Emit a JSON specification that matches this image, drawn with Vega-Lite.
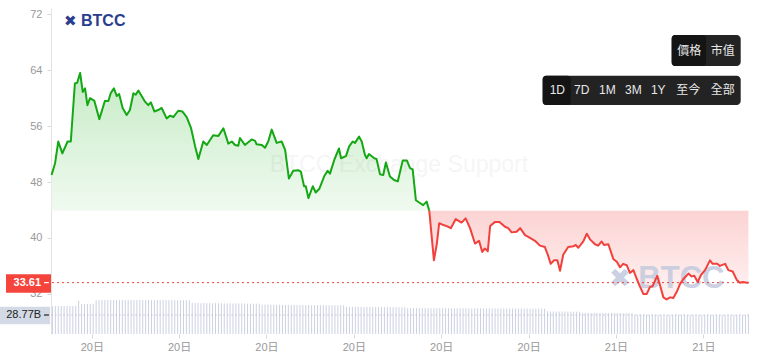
{
  "$schema": "https://vega.github.io/schema/vega-lite/v6.json",
  "width": 698,
  "height": 326,
  "autosize": "none",
  "padding": {"left": 51, "top": 8, "right": 10, "bottom": 27},
  "background": "white",
  "data": {"values": [{}]},
  "datasets": {
    "up": [
      {"t":4.62,"v":49.0},{"t":4.74,"v":50.7},{"t":4.85,"v":53.8},{"t":4.99,"v":52.1},{"t":5.17,"v":53.8},{"t":5.28,"v":53.8},
      {"t":5.42,"v":62.1},{"t":5.50,"v":62.2},{"t":5.60,"v":63.6},{"t":5.69,"v":60.9},{"t":5.77,"v":61.4},{"t":5.85,"v":59.0},
      {"t":5.94,"v":60.0},{"t":6.09,"v":59.6},{"t":6.26,"v":57.0},{"t":6.45,"v":59.6},{"t":6.57,"v":59.6},{"t":6.65,"v":60.7},
      {"t":6.76,"v":61.4},{"t":6.86,"v":60.3},{"t":6.94,"v":60.6},{"t":7.06,"v":58.6},{"t":7.20,"v":57.6},{"t":7.31,"v":58.3},
      {"t":7.43,"v":60.7},{"t":7.51,"v":60.5},{"t":7.60,"v":61.1},{"t":7.83,"v":59.5},{"t":7.94,"v":59.0},{"t":8.03,"v":59.4},
      {"t":8.15,"v":58.1},{"t":8.28,"v":58.3},{"t":8.40,"v":58.6},{"t":8.57,"v":57.1},{"t":8.69,"v":57.5},{"t":8.80,"v":57.3},
      {"t":8.97,"v":58.2},{"t":9.11,"v":58.1},{"t":9.26,"v":57.3},{"t":9.41,"v":55.7},{"t":9.55,"v":53.1},{"t":9.66,"v":51.3},
      {"t":9.83,"v":53.8},{"t":9.95,"v":53.3},{"t":10.17,"v":54.7},{"t":10.35,"v":54.6},{"t":10.52,"v":55.7},{"t":10.69,"v":53.5},
      {"t":10.81,"v":53.8},{"t":10.92,"v":53.3},{"t":11.03,"v":53.2},{"t":11.09,"v":54.3},{"t":11.26,"v":53.3},{"t":11.49,"v":54.1},
      {"t":11.61,"v":53.9},{"t":11.66,"v":53.4},{"t":11.84,"v":53.3},{"t":11.95,"v":52.9},{"t":12.06,"v":53.8},{"t":12.18,"v":55.5},
      {"t":12.35,"v":53.6},{"t":12.52,"v":53.8},{"t":12.64,"v":52.6},{"t":12.77,"v":48.5},{"t":12.92,"v":49.6},{"t":13.09,"v":49.7},
      {"t":13.18,"v":49.5},{"t":13.29,"v":47.4},{"t":13.35,"v":47.4},{"t":13.44,"v":45.7},{"t":13.59,"v":47.4},{"t":13.69,"v":46.5},
      {"t":13.81,"v":47.0},{"t":13.99,"v":48.9},{"t":14.10,"v":49.6},{"t":14.18,"v":49.2},{"t":14.33,"v":51.2},{"t":14.49,"v":52.8},
      {"t":14.56,"v":51.4},{"t":14.73,"v":51.7},{"t":14.84,"v":53.1},{"t":14.96,"v":53.8},{"t":15.04,"v":53.6},{"t":15.18,"v":54.5},
      {"t":15.27,"v":53.8},{"t":15.38,"v":51.9},{"t":15.44,"v":51.4},{"t":15.52,"v":52.0},{"t":15.70,"v":51.4},{"t":15.78,"v":51.3},
      {"t":15.90,"v":49.1},{"t":16.01,"v":49.0},{"t":16.10,"v":50.8},{"t":16.24,"v":48.8},{"t":16.38,"v":48.3},{"t":16.51,"v":48.1},
      {"t":16.68,"v":51.1},{"t":16.82,"v":51.1},{"t":16.93,"v":50.0},{"t":17.02,"v":49.8},{"t":17.13,"v":45.4},{"t":17.27,"v":45.0},
      {"t":17.38,"v":44.7},{"t":17.50,"v":45.2},{"t":17.59,"v":43.9}
    ],
    "down": [
      {"t":17.59,"v":43.9},{"t":17.75,"v":36.8},{"t":17.85,"v":39.2},{"t":17.93,"v":42.1},{"t":18.05,"v":41.9},{"t":18.19,"v":41.7},
      {"t":18.33,"v":41.4},{"t":18.50,"v":42.7},{"t":18.70,"v":42.2},{"t":18.84,"v":42.8},{"t":18.99,"v":41.4},{"t":19.16,"v":39.2},
      {"t":19.30,"v":39.6},{"t":19.41,"v":38.0},{"t":19.50,"v":38.5},{"t":19.60,"v":38.1},{"t":19.68,"v":41.7},{"t":19.85,"v":42.3},
      {"t":20.00,"v":42.3},{"t":20.19,"v":41.6},{"t":20.30,"v":41.4},{"t":20.42,"v":40.8},{"t":20.59,"v":40.9},{"t":20.71,"v":41.4},
      {"t":20.88,"v":40.4},{"t":21.05,"v":40.0},{"t":21.22,"v":39.6},{"t":21.39,"v":38.9},{"t":21.56,"v":38.7},{"t":21.66,"v":37.6},
      {"t":21.76,"v":36.3},{"t":21.87,"v":36.8},{"t":21.99,"v":36.8},{"t":22.08,"v":35.3},{"t":22.19,"v":37.6},{"t":22.36,"v":38.7},
      {"t":22.54,"v":38.8},{"t":22.62,"v":39.0},{"t":22.71,"v":38.6},{"t":22.88,"v":39.5},{"t":23.00,"v":40.6},{"t":23.11,"v":39.8},
      {"t":23.28,"v":39.1},{"t":23.39,"v":38.9},{"t":23.51,"v":39.5},{"t":23.59,"v":39.0},{"t":23.74,"v":39.1},{"t":23.91,"v":37.0},
      {"t":24.03,"v":36.6},{"t":24.14,"v":35.8},{"t":24.25,"v":36.3},{"t":24.37,"v":36.1},{"t":24.48,"v":35.0},{"t":24.60,"v":35.4},
      {"t":24.71,"v":34.2},{"t":24.83,"v":33.0},{"t":24.94,"v":32.0},{"t":25.06,"v":32.0},{"t":25.17,"v":33.0},{"t":25.26,"v":33.1},
      {"t":25.42,"v":34.6},{"t":25.51,"v":33.3},{"t":25.63,"v":31.5},{"t":25.74,"v":31.2},{"t":25.86,"v":31.5},{"t":25.97,"v":31.4},
      {"t":26.09,"v":32.3},{"t":26.20,"v":33.4},{"t":26.31,"v":34.1},{"t":26.49,"v":34.9},{"t":26.60,"v":34.5},{"t":26.69,"v":34.6},
      {"t":26.81,"v":33.7},{"t":26.92,"v":34.7},{"t":27.06,"v":35.4},{"t":27.23,"v":36.8},{"t":27.32,"v":36.3},{"t":27.48,"v":36.3},
      {"t":27.57,"v":36.0},{"t":27.75,"v":36.3},{"t":27.86,"v":35.4},{"t":28.01,"v":35.2},{"t":28.15,"v":34.0},{"t":28.26,"v":33.6},
      {"t":28.37,"v":33.7},{"t":28.49,"v":33.6},{"t":28.55,"v":33.61}
    ],
    "vol": [
      {"t":4.65,"v":42.2},{"t":4.75,"v":42.4},{"t":4.85,"v":42.3},{"t":4.95,"v":42.5},{"t":5.05,"v":42.4},{"t":5.15,"v":42.6},{"t":5.25,"v":42.4},{"t":5.35,"v":42.5},{"t":5.45,"v":42.7},
      {"t":5.55,"v":50.5},
      {"t":5.65,"v":45.3},{"t":5.75,"v":45.5},{"t":5.85,"v":45.6},{"t":5.95,"v":45.5},{"t":6.05,"v":45.8},
      {"t":6.15,"v":51.2},{"t":6.25,"v":51.4},{"t":6.35,"v":51.5},{"t":6.45,"v":51.6},{"t":6.55,"v":51.5},{"t":6.65,"v":51.7},{"t":6.75,"v":51.6},{"t":6.85,"v":51.5},{"t":6.95,"v":51.8},{"t":7.05,"v":51.6},{"t":7.15,"v":51.5},
      {"t":7.25,"v":51.7},{"t":7.35,"v":51.6},{"t":7.45,"v":51.4},{"t":7.55,"v":51.5},{"t":7.65,"v":51.6},{"t":7.75,"v":51.5},{"t":7.85,"v":51.3},{"t":7.95,"v":51.5},{"t":8.05,"v":51.4},{"t":8.15,"v":51.6},{"t":8.25,"v":51.5},
      {"t":8.35,"v":51.3},{"t":8.45,"v":51.4},{"t":8.55,"v":51.5},{"t":8.65,"v":51.2},{"t":8.75,"v":51.4},{"t":8.85,"v":51.3},{"t":8.95,"v":51.1},{"t":9.05,"v":51.3},{"t":9.15,"v":51.2},{"t":9.25,"v":51.0},{"t":9.35,"v":51.1},
      {"t":9.45,"v":47.0},{"t":9.55,"v":46.9},{"t":9.65,"v":47.0},{"t":9.75,"v":46.8},{"t":9.85,"v":46.9},{"t":9.95,"v":46.7},{"t":10.05,"v":46.8},{"t":10.15,"v":46.6},{"t":10.25,"v":46.7},{"t":10.35,"v":46.5},{"t":10.45,"v":46.6},{"t":10.55,"v":46.5},
      {"t":10.65,"v":46.4},{"t":10.75,"v":46.5},{"t":10.85,"v":46.3},{"t":10.95,"v":46.4},{"t":11.05,"v":46.2},{"t":11.15,"v":46.3},{"t":11.25,"v":46.1},{"t":11.35,"v":46.2},{"t":11.45,"v":46.0},{"t":11.55,"v":46.1},{"t":11.65,"v":45.9},{"t":11.75,"v":46.0},
      {"t":11.85,"v":44.5},{"t":11.95,"v":44.4},{"t":12.05,"v":44.5},{"t":12.15,"v":44.3},{"t":12.25,"v":44.4},{"t":12.35,"v":44.2},{"t":12.45,"v":44.3},{"t":12.55,"v":44.2},{"t":12.65,"v":44.1},{"t":12.75,"v":44.2},
      {"t":12.85,"v":44.0},{"t":12.95,"v":44.1},{"t":13.05,"v":44.0},{"t":13.15,"v":43.9},{"t":13.25,"v":44.0},{"t":13.35,"v":43.8},{"t":13.45,"v":43.9},{"t":13.55,"v":43.8},{"t":13.65,"v":43.7},{"t":13.75,"v":43.8},
      {"t":13.85,"v":43.7},{"t":13.95,"v":43.6},{"t":14.05,"v":43.7},{"t":14.15,"v":43.6},{"t":14.25,"v":43.5},{"t":14.35,"v":43.6},{"t":14.45,"v":43.5},{"t":14.55,"v":43.4},{"t":14.65,"v":43.5},
      {"t":14.75,"v":41.2},{"t":14.85,"v":41.1},{"t":14.95,"v":41.2},{"t":15.05,"v":41.0},{"t":15.15,"v":41.1},{"t":15.25,"v":41.0},{"t":15.35,"v":40.9},{"t":15.45,"v":41.0},{"t":15.55,"v":40.9},{"t":15.65,"v":40.8},{"t":15.75,"v":40.9},
      {"t":15.85,"v":40.8},{"t":15.95,"v":40.7},{"t":16.05,"v":40.8},{"t":16.15,"v":40.7},{"t":16.25,"v":40.6},{"t":16.35,"v":40.7},{"t":16.45,"v":40.6},{"t":16.55,"v":40.5},{"t":16.65,"v":40.6},{"t":16.75,"v":40.5},
      {"t":16.85,"v":39.4},{"t":16.95,"v":39.3},{"t":17.05,"v":39.4},{"t":17.15,"v":39.3},{"t":17.25,"v":39.2},{"t":17.35,"v":39.3},{"t":17.45,"v":39.2},{"t":17.55,"v":39.3},{"t":17.65,"v":39.1},{"t":17.75,"v":39.2},{"t":17.85,"v":39.1},{"t":17.95,"v":39.2},
      {"t":18.05,"v":39.0},{"t":18.15,"v":39.1},{"t":18.25,"v":39.0},{"t":18.35,"v":39.1},{"t":18.45,"v":39.0},{"t":18.55,"v":38.9},{"t":18.65,"v":39.0},{"t":18.75,"v":38.9},{"t":18.85,"v":39.0},{"t":18.95,"v":38.9},{"t":19.05,"v":38.8},{"t":19.15,"v":38.9},
      {"t":19.25,"v":38.8},{"t":19.35,"v":38.9},{"t":19.45,"v":38.8},{"t":19.55,"v":38.7},{"t":19.65,"v":38.8},{"t":19.75,"v":38.7},{"t":19.85,"v":38.8},{"t":19.95,"v":38.7},{"t":20.05,"v":38.6},{"t":20.15,"v":38.7},{"t":20.25,"v":38.6},{"t":20.35,"v":38.7},
      {"t":20.45,"v":38.6},{"t":20.55,"v":38.5},{"t":20.65,"v":38.6},{"t":20.75,"v":38.5},{"t":20.85,"v":38.6},{"t":20.95,"v":38.5},{"t":21.05,"v":38.4},{"t":21.15,"v":38.5},{"t":21.25,"v":38.4},{"t":21.35,"v":38.5},{"t":21.45,"v":38.4},{"t":21.55,"v":38.3},
      {"t":21.65,"v":34.2},{"t":21.75,"v":34.1},{"t":21.85,"v":34.2},{"t":21.95,"v":34.0},{"t":22.05,"v":34.1},{"t":22.15,"v":33.9},{"t":22.25,"v":34.0},{"t":22.35,"v":33.8},{"t":22.45,"v":33.9},{"t":22.55,"v":33.7},{"t":22.65,"v":33.8},{"t":22.75,"v":33.6},
      {"t":22.85,"v":32.1},{"t":22.95,"v":32.0},{"t":23.05,"v":32.1},{"t":23.15,"v":31.9},{"t":23.25,"v":32.0},{"t":23.35,"v":31.9},{"t":23.45,"v":31.8},{"t":23.55,"v":31.9},{"t":23.65,"v":31.8},
      {"t":23.75,"v":31.7},{"t":23.85,"v":31.8},{"t":23.95,"v":31.7},{"t":24.05,"v":31.6},{"t":24.15,"v":31.7},{"t":24.25,"v":31.6},{"t":24.35,"v":31.5},{"t":24.45,"v":31.6},{"t":24.55,"v":31.5},
      {"t":24.65,"v":29.3},{"t":24.75,"v":29.2},{"t":24.85,"v":29.3},{"t":24.95,"v":29.2},{"t":25.05,"v":29.1},{"t":25.15,"v":29.2},{"t":25.25,"v":29.1},{"t":25.35,"v":29.2},{"t":25.45,"v":29.0},{"t":25.55,"v":29.1},
      {"t":25.65,"v":29.0},{"t":25.75,"v":29.1},{"t":25.85,"v":29.0},{"t":25.95,"v":28.9},{"t":26.05,"v":29.0},{"t":26.15,"v":28.9},{"t":26.25,"v":29.0},{"t":26.35,"v":28.9},{"t":26.45,"v":28.9},{"t":26.55,"v":28.8},
      {"t":26.65,"v":28.9},{"t":26.75,"v":28.8},{"t":26.85,"v":28.9},{"t":26.95,"v":28.8},{"t":27.05,"v":28.8},{"t":27.15,"v":28.9},{"t":27.25,"v":28.8},{"t":27.35,"v":28.8},{"t":27.45,"v":28.7},{"t":27.55,"v":28.8},
      {"t":27.65,"v":28.8},{"t":27.75,"v":28.7},{"t":27.85,"v":28.8},{"t":27.95,"v":28.8},{"t":28.05,"v":28.7},{"t":28.15,"v":28.8},{"t":28.25,"v":28.8},{"t":28.35,"v":28.7},{"t":28.45,"v":28.8},{"t":28.55,"v":28.77}
    ]
  },
  "layer": [
    {
      "layer": [
        {
          "data": {"name": "vol"},
          "mark": {"type": "rule", "color": "#cbd1e1", "strokeWidth": 1},
          "encoding": {
            "x": {"field": "t", "type": "quantitative", "title": null},
            "y": {"field": "v", "type": "quantitative", "title": null, "axis": null, "scale": {"domain": [0, 494], "nice": false, "zero": false}},
            "y2": {"datum": 0}
          }
        },
        {
          "mark": {"type": "rule", "color": "#b3bcd2", "strokeDash": [2, 2], "strokeWidth": 1, "opacity": 0.6},
          "encoding": {"y": {"datum": 28.77, "axis": null}}
        },
        {
          "mark": {"type": "rect", "color": "#d3d9e5"},
          "encoding": {
            "x": {"datum": 2.85}, "x2": {"datum": 4.57},
            "y": {"datum": 41.4, "axis": null}, "y2": {"datum": 14.7}
          }
        },
        {
          "mark": {"type": "text", "align": "right", "baseline": "middle", "fontSize": 11, "color": "#222222", "font": "Liberation Sans"},
          "encoding": {
            "x": {"datum": 4.26}, "y": {"datum": 28.77, "axis": null},
            "text": {"value": "28.77B"}
          }
        },
        {
          "mark": {"type": "rule", "color": "#222222", "strokeWidth": 1.2},
          "encoding": {
            "x": {"datum": 4.36}, "x2": {"datum": 4.53},
            "y": {"datum": 28.77, "axis": null}
          }
        }
      ]
    },
    {
      "layer": [
        {
          "data": {"name": "up"},
          "mark": {"type": "area", "line": false, "color": {"gradient": "linear", "x1": 0, "y1": 0, "x2": 0, "y2": 1, "stops": [{"offset": 0, "color": "#c6ebc6"}, {"offset": 1, "color": "#f0faf0"}]}},
          "encoding": {
            "x": {"field": "t", "type": "quantitative", "title": null,
              "scale": {"domain": [4.6, 28.57], "nice": false, "zero": false},
              "axis": {"values": [6, 9, 12, 15, 18, 21, 24, 27], "labelExpr": "datum.value < 24 ? '20日' : '21日'", "domain": false, "grid": false, "tickSize": 4, "tickColor": "#d8d8d8", "labelColor": "#999999", "labelFontSize": 11, "labelPadding": 3, "labelFlush": false, "labelFont": "Liberation Sans, Noto Sans CJK TC"}},
            "y": {"field": "v", "type": "quantitative", "title": null,
              "scale": {"domain": [26.26, 72.9], "nice": false, "zero": false},
              "axis": {"values": [32, 40, 48, 56, 64, 72], "grid": false, "domainColor": "#e3e3e3", "tickColor": "#d8d8d8", "tickSize": 4, "labelColor": "#999999", "labelFontSize": 11, "labelPadding": 5, "labelFont": "Liberation Sans"}},
            "y2": {"datum": 43.9}
          }
        },
        {
          "data": {"name": "down"},
          "mark": {"type": "area", "line": false, "color": {"gradient": "linear", "x1": 0, "y1": 0, "x2": 0, "y2": 1, "stops": [{"offset": 0, "color": "#fcd3d3"}, {"offset": 1, "color": "#fff3f3"}]}},
          "encoding": {
            "x": {"field": "t", "type": "quantitative", "title": null},
            "y": {"field": "v", "type": "quantitative", "title": null},
            "y2": {"datum": 43.9}
          }
        },
        {
          "mark": {"type": "text", "align": "center", "baseline": "middle", "fontSize": 23, "color": "#000000", "opacity": 0.035, "font": "Liberation Sans"},
          "encoding": {"x": {"datum": 16.55}, "y": {"datum": 50.44}, "text": {"value": "BTCC Exchange Support"}}
        },
        {
          "mark": {"type": "text", "align": "center", "baseline": "middle", "fontSize": 26, "fontWeight": "bold", "color": "#c3cade", "opacity": 0.85, "font": "DejaVu Sans"},
          "encoding": {"x": {"datum": 24.14}, "y": {"datum": 34.09}, "text": {"value": "✖"}}
        },
        {
          "mark": {"type": "text", "align": "left", "baseline": "middle", "fontSize": 31, "fontWeight": "bold", "color": "#c3cade", "opacity": 0.85, "font": "Liberation Sans"},
          "encoding": {"x": {"datum": 24.77}, "y": {"datum": 34.09}, "text": {"value": "BTCC"}}
        },
        {
          "data": {"name": "up"},
          "mark": {"type": "line", "color": "#14a814", "strokeWidth": 2, "strokeJoin": "round"},
          "encoding": {
            "x": {"field": "t", "type": "quantitative", "title": null},
            "y": {"field": "v", "type": "quantitative", "title": null}
          }
        },
        {
          "data": {"name": "down"},
          "mark": {"type": "line", "color": "#f2403c", "strokeWidth": 2, "strokeJoin": "round"},
          "encoding": {
            "x": {"field": "t", "type": "quantitative", "title": null},
            "y": {"field": "v", "type": "quantitative", "title": null}
          }
        },
        {
          "mark": {"type": "rule", "color": "#e8453c", "strokeDash": [2, 3], "strokeWidth": 1},
          "encoding": {"y": {"datum": 33.61}}
        },
        {
          "mark": {"type": "rect", "color": "#f5443c"},
          "encoding": {"x": {"datum": 3.055}, "x2": {"datum": 4.6}, "y": {"datum": 34.8}, "y2": {"datum": 32.17}}
        },
        {
          "mark": {"type": "text", "align": "right", "baseline": "middle", "fontSize": 11, "fontWeight": "bold", "color": "#ffffff", "font": "Liberation Sans"},
          "encoding": {"x": {"datum": 4.26}, "y": {"datum": 33.55}, "text": {"value": "33.61"}}
        },
        {
          "mark": {"type": "rule", "color": "#ffffff", "strokeWidth": 1.2},
          "encoding": {"x": {"datum": 4.36}, "x2": {"datum": 4.53}, "y": {"datum": 33.61}}
        },
        {
          "mark": {"type": "text", "align": "center", "baseline": "middle", "fontSize": 15, "fontWeight": "bold", "color": "#2b3d8f", "font": "DejaVu Sans"},
          "encoding": {"x": {"datum": 5.26}, "y": {"datum": 71.1}, "text": {"value": "✖"}}
        },
        {
          "mark": {"type": "text", "align": "left", "baseline": "middle", "fontSize": 16, "fontWeight": "bold", "color": "#2b3d8f", "font": "Liberation Sans"},
          "encoding": {"x": {"datum": 5.63}, "y": {"datum": 71.1}, "text": {"value": "BTCC"}}
        },
        {
          "mark": {"type": "rect", "color": "#232323", "cornerRadius": 4},
          "encoding": {"x": {"datum": 25.915}, "x2": {"datum": 28.285}, "y": {"datum": 69.04}, "y2": {"datum": 64.6}}
        },
        {
          "mark": {"type": "rect", "color": "#141414", "cornerRadius": 3},
          "encoding": {"x": {"datum": 25.915}, "x2": {"datum": 27.093}, "y": {"datum": 69.04}, "y2": {"datum": 64.6}}
        },
        {
          "mark": {"type": "text", "align": "center", "baseline": "middle", "fontSize": 12, "color": "#e8e8e8", "font": "Noto Sans CJK TC"},
          "encoding": {"x": {"datum": 26.52}, "y": {"datum": 66.79}, "text": {"value": "價格"}}
        },
        {
          "mark": {"type": "text", "align": "center", "baseline": "middle", "fontSize": 12, "color": "#e8e8e8", "font": "Noto Sans CJK TC"},
          "encoding": {"x": {"datum": 27.667}, "y": {"datum": 66.79}, "text": {"value": "市值"}}
        },
        {
          "mark": {"type": "rect", "color": "#232323", "cornerRadius": 4},
          "encoding": {"x": {"datum": 21.485}, "x2": {"datum": 28.285}, "y": {"datum": 63.215}, "y2": {"datum": 59.02}}
        },
        {
          "mark": {"type": "rect", "color": "#141414", "cornerRadius": 3},
          "encoding": {"x": {"datum": 21.485}, "x2": {"datum": 22.447}, "y": {"datum": 63.215}, "y2": {"datum": 59.02}}
        },
        {
          "mark": {"type": "text", "align": "center", "baseline": "middle", "fontSize": 12, "color": "#e8e8e8", "font": "Liberation Sans"},
          "encoding": {"x": {"datum": 21.987}, "y": {"datum": 61.17}, "text": {"value": "1D"}}
        },
        {
          "mark": {"type": "text", "align": "center", "baseline": "middle", "fontSize": 12, "color": "#e8e8e8", "font": "Liberation Sans"},
          "encoding": {"x": {"datum": 22.825}, "y": {"datum": 61.17}, "text": {"value": "7D"}}
        },
        {
          "mark": {"type": "text", "align": "center", "baseline": "middle", "fontSize": 12, "color": "#e8e8e8", "font": "Liberation Sans"},
          "encoding": {"x": {"datum": 23.704}, "y": {"datum": 61.17}, "text": {"value": "1M"}}
        },
        {
          "mark": {"type": "text", "align": "center", "baseline": "middle", "fontSize": 12, "color": "#e8e8e8", "font": "Liberation Sans"},
          "encoding": {"x": {"datum": 24.597}, "y": {"datum": 61.17}, "text": {"value": "3M"}}
        },
        {
          "mark": {"type": "text", "align": "center", "baseline": "middle", "fontSize": 12, "color": "#e8e8e8", "font": "Liberation Sans"},
          "encoding": {"x": {"datum": 25.455}, "y": {"datum": 61.17}, "text": {"value": "1Y"}}
        },
        {
          "mark": {"type": "text", "align": "center", "baseline": "middle", "fontSize": 12, "color": "#e8e8e8", "font": "Noto Sans CJK TC"},
          "encoding": {"x": {"datum": 26.485}, "y": {"datum": 61.17}, "text": {"value": "至今"}}
        },
        {
          "mark": {"type": "text", "align": "center", "baseline": "middle", "fontSize": 12, "color": "#e8e8e8", "font": "Noto Sans CJK TC"},
          "encoding": {"x": {"datum": 27.667}, "y": {"datum": 61.17}, "text": {"value": "全部"}}
        }
      ]
    }
  ],
  "resolve": {"scale": {"y": "independent"}},
  "config": {
    "view": {"stroke": null},
    "font": "Liberation Sans"
  }
}
